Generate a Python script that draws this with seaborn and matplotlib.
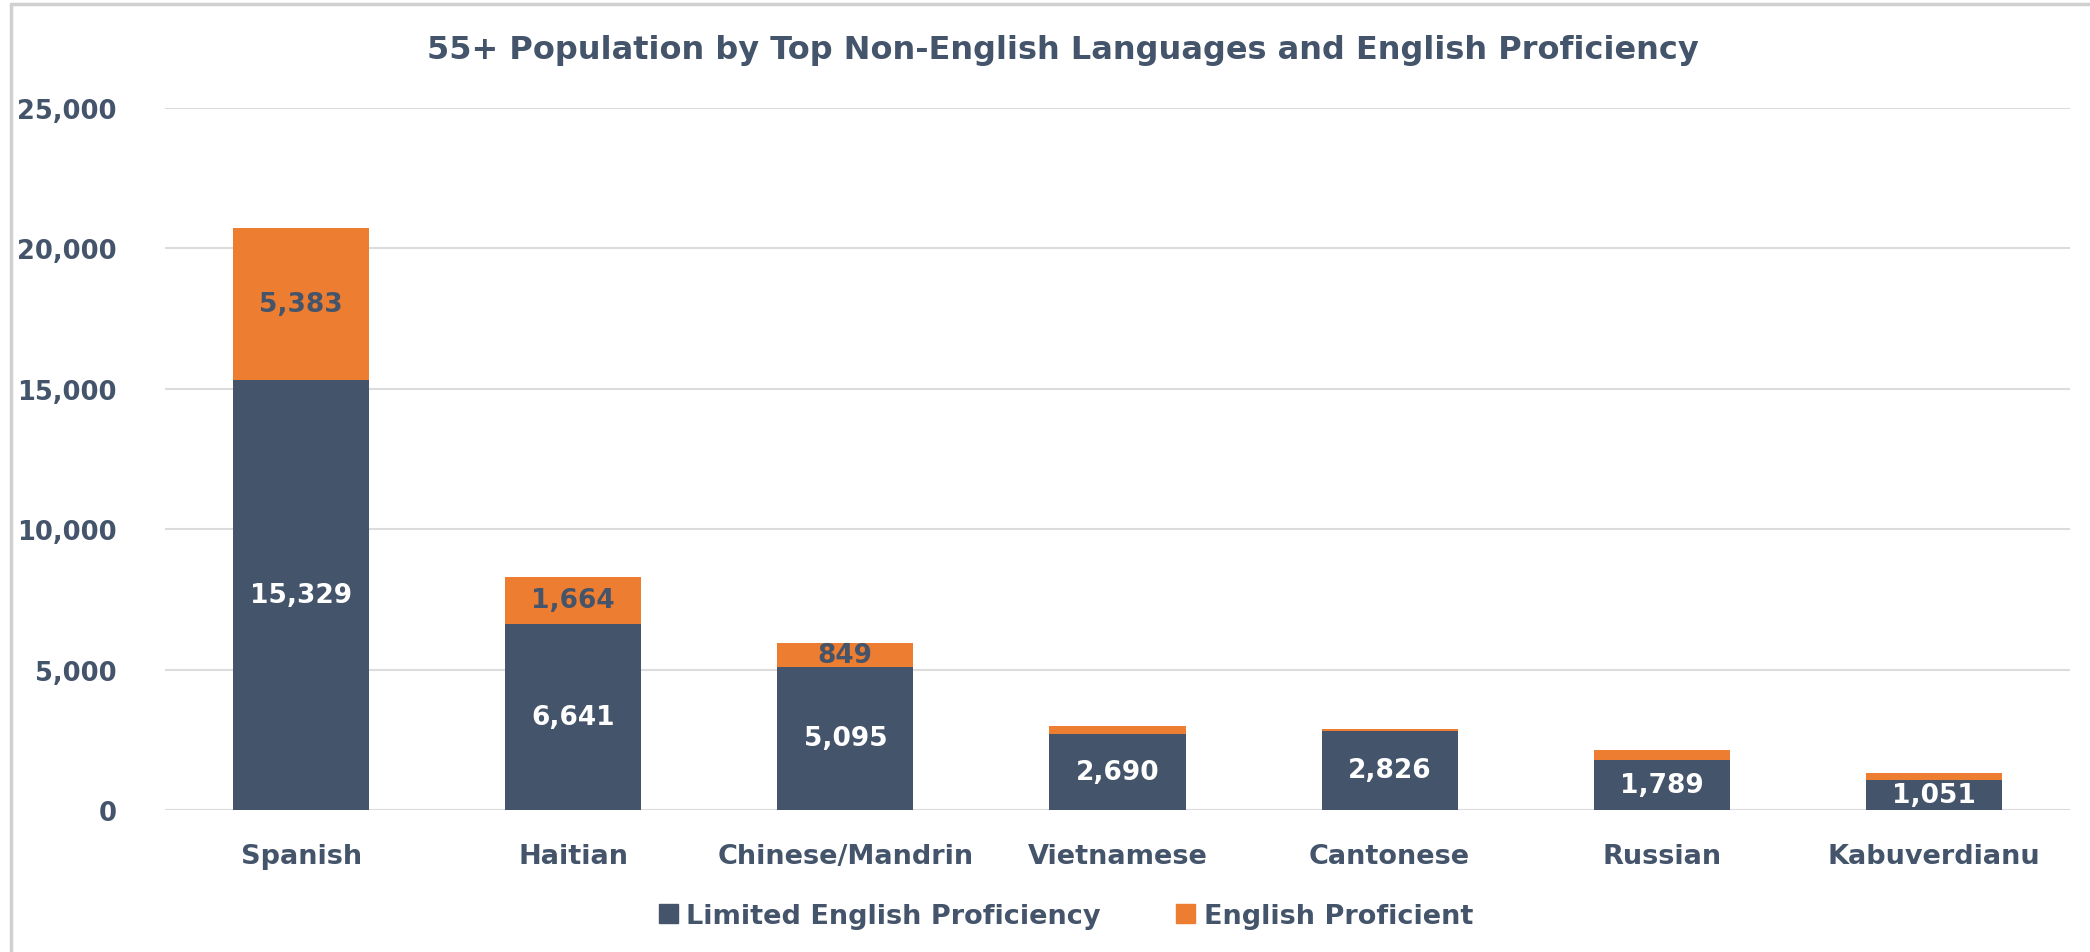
import matplotlib
matplotlib.use("Agg")
import matplotlib.pyplot as plt
import matplotlib.patches as mpatches
from matplotlib.lines import Line2D
import seaborn as sns
import numpy as np
import pandas as pd

languages = ["Spanish", "Haitian", "Chinese/Mandrin", "Vietnamese", "Cantonese", "Russian", "Kabuverdianu"]
limited_english = [15329, 6641, 5095, 2690, 2826, 1789, 1051]
english_proficient = [5383, 1664, 849, 300, 65, 330, 270]
ep_labeled = [True, True, True, False, False, False, False]
series_names = ["Limited English Proficiency", "English Proficient"]
title = "55+ Population by Top Non-English Languages and English Proficiency"
yticks = [0, 5000, 10000, 15000, 20000, 25000]

DARK = "#44546A"
ORANGE = "#ED7D31"
TEXT = "#44546A"
GRID = "#DCDCDC"

sns.set_theme(style="white")
plt.rcParams["font.family"] = ["DejaVu Sans"]
plt.rcParams["font.weight"] = "bold"

df = pd.DataFrame({
    "language": languages,
    "lep": limited_english,
    "ep": english_proficient,
})
df["total"] = df["lep"] + df["ep"]

fig = plt.figure(figsize=(20.9, 9.53), dpi=100)
ax = fig.add_axes([165 / 2090, 1 - 811 / 953, (2070 - 165) / 2090, (811 - 109) / 953])

sns.barplot(data=df, x="language", y="total", color=ORANGE, width=0.5, ax=ax,
            saturation=1, edgecolor="none", zorder=3)
sns.barplot(data=df, x="language", y="lep", color=DARK, width=0.5, ax=ax,
            saturation=1, edgecolor="none", zorder=3)

ax.set_ylim(0, 25000)
ax.set_xlim(-0.5, len(languages) - 0.5)
ax.set_yticks(yticks)
ax.set_yticklabels([f"{v:,}" for v in yticks])
ax.set_xlabel("")
ax.set_ylabel("")
ax.grid(axis="y", color=GRID, linewidth=1.5, zorder=0)
ax.grid(axis="x", visible=False)
for s in ax.spines.values():
    s.set_visible(False)
ax.tick_params(axis="y", length=0, pad=35, labelsize=18.5, labelcolor=TEXT)
ax.tick_params(axis="x", length=0, pad=24, labelsize=19.5, labelcolor=TEXT)
for lbl in ax.get_xticklabels() + ax.get_yticklabels():
    lbl.set_fontweight("bold")

# Data labels
lep_container = ax.containers[1]
ax.bar_label(lep_container, labels=[f"{v:,}" for v in limited_english],
             label_type="center", color="white", fontsize=19, fontweight="bold", zorder=5)
for i, (l, e, show) in enumerate(zip(limited_english, english_proficient, ep_labeled)):
    if show:
        ax.text(i, l + e / 2, f"{e:,}", ha="center", va="center", color=TEXT,
                fontsize=19, fontweight="bold", zorder=5)

fig.text(1063 / 2090, 1 - 51 / 953, title, ha="center", va="center",
         fontsize=23, fontweight="bold", color=TEXT)

handles = [mpatches.Patch(color=DARK), mpatches.Patch(color=ORANGE)]
leg = fig.legend(handles, series_names, loc="center", bbox_to_anchor=(1066 / 2090, 1 - 917 / 953),
                 ncol=2, frameon=False, handlelength=0.7, handleheight=0.7,
                 handletextpad=0.3, columnspacing=2.8, fontsize=19.5)
for t in leg.get_texts():
    t.set_color(TEXT)
    t.set_fontweight("bold")

# chart-area border
fig.add_artist(Line2D([11 / 2090, 11 / 2090], [0, 1 - 5 / 953], transform=fig.transFigure,
                      color="#D0D0D0", linewidth=2.5))
fig.add_artist(Line2D([11 / 2090, 1], [1 - 5 / 953, 1 - 5 / 953], transform=fig.transFigure,
                      color="#D0D0D0", linewidth=2.5))

fig.savefig("out.png", dpi=100)
